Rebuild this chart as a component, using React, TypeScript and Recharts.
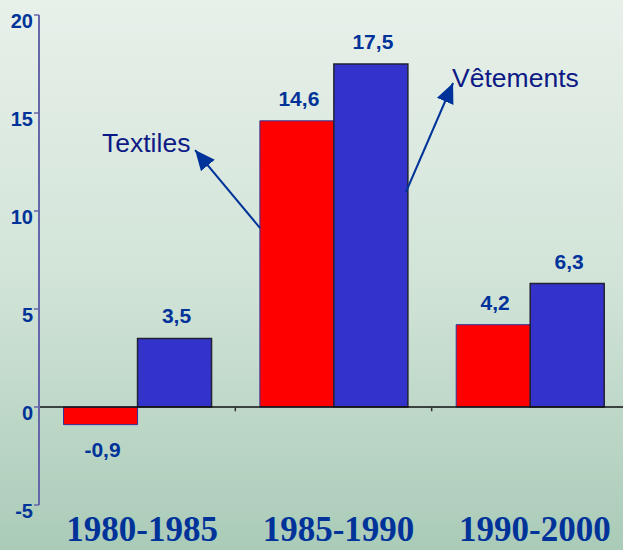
import React from 'react';
import { BarChart, Bar, XAxis, YAxis, ReferenceLine, ReferenceDot, LabelList } from 'recharts';

const periods = ['1980-1985', '1985-1990', '1990-2000'];
const periodCenters = [0.5, 1.5, 2.5];
const textiles = [-0.9, 14.6, 4.2];
const vetements = [3.5, 17.5, 6.3];
const yTicks = [-5, 0, 5, 10, 15, 20];
const categoryBoundaries = [0, 1, 2];

// annotation arrows (in data units: x = category index space, y = value)
const annotationLabels = ['Textiles', 'Vêtements'];
const annotationTextPos = [[0.321, 13.0], [2.104, 16.33]];
const annotationArrowFrom = [[1.126, 9.13], [1.869, 10.97]];
const annotationArrowTo = [[0.795, 13.11], [2.109, 16.53]];

const data = periods.map((p, i) => ({ period: p, idx: periodCenters[i], textiles: textiles[i], vetements: vetements[i] }));

const fmt = (v: number) => String(v).replace('.', ',');

const ValueLabel = (props: any) => {
  const vb = props.viewBox && props.viewBox.width !== undefined ? props.viewBox : props;
  const x = Number(vb.x), y = Number(vb.y), w = Number(vb.width), h = Number(vb.height);
  const v = Number(props.value);
  const top = Math.min(y, y + h);
  const bottom = Math.max(y, y + h);
  const cx = x + w / 2 + 2;
  const ty = v >= 0 ? top - 15 : bottom + 32;
  return (
    <text x={cx} y={ty} textAnchor="middle" fill="#003399" fontFamily="'Liberation Sans', Arial, sans-serif" fontWeight="bold" fontSize={21}>
      {fmt(v)}
    </text>
  );
};

const YTick = (props: any) => {
  const { x, y, payload } = props;
  return (
    <text x={x} y={y} dy={13} textAnchor="end" fill="#003399" fontFamily="'Liberation Sans', Arial, sans-serif" fontWeight="bold" fontSize={20}>
      {payload.value}
    </text>
  );
};

const XTick = (props: any) => {
  const { x, y, payload } = props;
  return (
    <text x={x + 5} y={y} dy={28} textAnchor="middle" fill="#003399" fontFamily="'Liberation Serif', 'Times New Roman', serif" fontWeight="bold" fontSize={35}>
      {payload.value}
    </text>
  );
};

const ArrowShape = (props: any) => (
  <line x1={props.x1} y1={props.y1} x2={props.x2} y2={props.y2} stroke="#003399" strokeWidth={2} markerEnd="url(#arrowHead)" />
);

const TickShape = (props: any) => (
  <line x1={props.x1} y1={props.y1} x2={props.x2} y2={props.y2} stroke="#333333" strokeWidth={1.5} />
);

export default function App() {
  return (
    <div
      style={{
        position: 'absolute',
        left: 0,
        top: 0,
        width: 623,
        height: 550,
        overflow: 'hidden',
        background: 'linear-gradient(to bottom, #e8f0ea 0%, #d2e4d8 50%, #aacbb8 100%)',
      }}
    >
      <BarChart
        width={640}
        height={550}
        data={data}
        margin={{ top: 15, right: 12, bottom: 0, left: 0 }}
        barCategoryGap="12.5%"
        barGap={0}
      >
        <defs>
          <marker id="arrowHead" viewBox="0 0 20 18" refX={20} refY={9} markerWidth={20} markerHeight={18} markerUnits="userSpaceOnUse" orient="auto">
            <path d="M0,0 L20,9 L0,18 z" fill="#003399" />
          </marker>
        </defs>
        <XAxis xAxisId="cat" dataKey="period" height={45} axisLine={false} tickLine={false} tick={<XTick />} interval={0} />
        <XAxis xAxisId="n" dataKey="idx" type="number" domain={[0, 3]} allowDataOverflow hide />
        <YAxis
          domain={[-5, 20]}
          ticks={yTicks}
          width={39}
          interval={0}
          allowDataOverflow
          axisLine={{ stroke: '#6666aa', strokeWidth: 2 }}
          tickLine={{ stroke: '#6666aa', strokeWidth: 1.5 }}
          tickSize={5}
          tickMargin={1}
          tick={<YTick />}
        />
        <ReferenceLine xAxisId="n" y={0} stroke="#111111" strokeWidth={1.5} />
        {categoryBoundaries.map((b) => (
          <ReferenceLine
            key={'t' + b}
            xAxisId="n"
            segment={[{ x: b, y: 0 }, { x: b, y: -0.22 }]}
            shape={<TickShape />}
          />
        ))}
        <Bar xAxisId="cat" dataKey="textiles" fill="#ff0000" stroke="#333399" strokeWidth={1} isAnimationActive={false}>
          <LabelList dataKey="textiles" content={<ValueLabel />} />
        </Bar>
        <Bar xAxisId="cat" dataKey="vetements" fill="#3333cc" stroke="#222233" strokeWidth={1.5} isAnimationActive={false}>
          <LabelList dataKey="vetements" content={<ValueLabel />} />
        </Bar>
        {annotationLabels.map((l, i) => (
          <ReferenceLine
            key={'a' + i}
            xAxisId="n"
            segment={[
              { x: annotationArrowFrom[i][0], y: annotationArrowFrom[i][1] },
              { x: annotationArrowTo[i][0], y: annotationArrowTo[i][1] },
            ]}
            shape={<ArrowShape />}
          />
        ))}
        {annotationLabels.map((l, i) => (
          <ReferenceDot
            key={'d' + i}
            xAxisId="n"
            x={annotationTextPos[i][0]}
            y={annotationTextPos[i][1]}
            r={0}
            shape={(p: any) => (
              <text x={p.cx} y={p.cy} textAnchor="start" fill="#0d1a85" fontFamily="'Liberation Sans', Arial, sans-serif" fontSize={26.5}>
                {l}
              </text>
            )}
          />
        ))}
      </BarChart>
    </div>
  );
}
